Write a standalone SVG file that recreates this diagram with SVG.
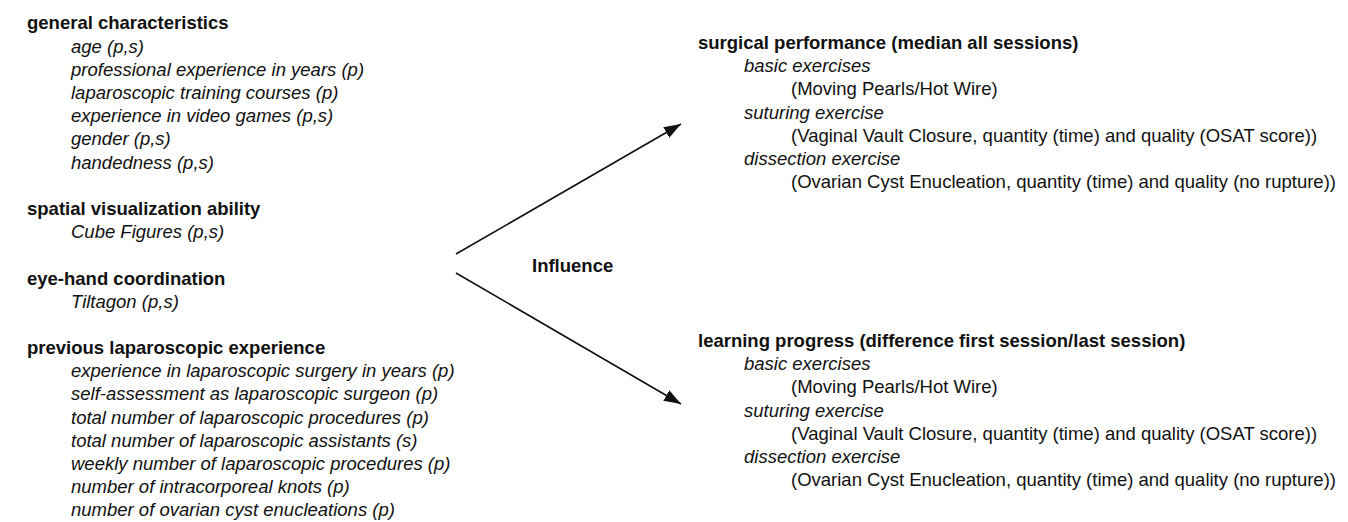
<svg xmlns="http://www.w3.org/2000/svg" width="1348" height="522" viewBox="0 0 1348 522">
<style>
text{font-family:"Liberation Sans",Arial,Helvetica,sans-serif;font-size:18.5px;fill:#111}
.h{font-weight:bold}
.i{font-style:italic}
.edge{stroke:#111;stroke-width:1.6;fill:none}
</style>
<defs>
<marker id="arr" markerUnits="userSpaceOnUse" markerWidth="17" markerHeight="12" refX="17" refY="6" orient="auto">
<path d="M0,0 L17,6 L0,12 z" fill="#111"/>
</marker>
</defs>
<rect width="1348" height="522" fill="#fff"/>
<g id="general-characteristics">
<text class="h" x="27" y="29">general characteristics</text>
<text class="i" x="71" y="52.5">age (p,s)</text>
<text class="i" x="71" y="75.7">professional experience in years (p)</text>
<text class="i" x="71" y="98.9">laparoscopic training courses (p)</text>
<text class="i" x="71" y="122.1">experience in video games (p,s)</text>
<text class="i" x="71" y="145.3">gender (p,s)</text>
<text class="i" x="71" y="168.5">handedness (p,s)</text>
</g>
<g id="spatial-visualization">
<text class="h" x="27" y="215">spatial visualization ability</text>
<text class="i" x="71" y="238.2">Cube Figures (p,s)</text>
</g>
<g id="eye-hand-coordination">
<text class="h" x="27" y="284.5">eye-hand coordination</text>
<text class="i" x="71" y="307.7">Tiltagon (p,s)</text>
</g>
<g id="previous-experience">
<text class="h" x="27" y="354">previous laparoscopic experience</text>
<text class="i" x="71" y="377.2">experience in laparoscopic surgery in years (p)</text>
<text class="i" x="71" y="400.4">self-assessment as laparoscopic surgeon (p)</text>
<text class="i" x="71" y="423.6">total number of laparoscopic procedures (p)</text>
<text class="i" x="71" y="446.8">total number of laparoscopic assistants (s)</text>
<text class="i" x="71" y="470">weekly number of laparoscopic procedures (p)</text>
<text class="i" x="71" y="493.2">number of intracorporeal knots (p)</text>
<text class="i" x="71" y="516.4">number of ovarian cyst enucleations (p)</text>
</g>
<g id="surgical-performance">
<text class="h" x="698" y="49">surgical performance (median all sessions)</text>
<text class="i" x="744" y="72.2">basic exercises</text>
<text x="791" y="95.4">(Moving Pearls/Hot Wire)</text>
<text class="i" x="744" y="118.6">suturing exercise</text>
<text x="791" y="141.8">(Vaginal Vault Closure, quantity (time) and quality (OSAT score))</text>
<text class="i" x="744" y="165">dissection exercise</text>
<text x="791" y="188.2">(Ovarian Cyst Enucleation, quantity (time) and quality (no rupture))</text>
</g>
<g id="learning-progress">
<text class="h" x="698" y="347">learning progress (difference first session/last session)</text>
<text class="i" x="744" y="370.2">basic exercises</text>
<text x="791" y="393.4">(Moving Pearls/Hot Wire)</text>
<text class="i" x="744" y="416.6">suturing exercise</text>
<text x="791" y="439.8">(Vaginal Vault Closure, quantity (time) and quality (OSAT score))</text>
<text class="i" x="744" y="463">dissection exercise</text>
<text x="791" y="486.2">(Ovarian Cyst Enucleation, quantity (time) and quality (no rupture))</text>
</g>
<g id="connectors">
<line class="edge" x1="456" y1="254" x2="681" y2="124" marker-end="url(#arr)"/>
<line class="edge" x1="456" y1="273" x2="681" y2="404" marker-end="url(#arr)"/>
<text class="h" x="532" y="271.5">Influence</text>
</g>
</svg>
